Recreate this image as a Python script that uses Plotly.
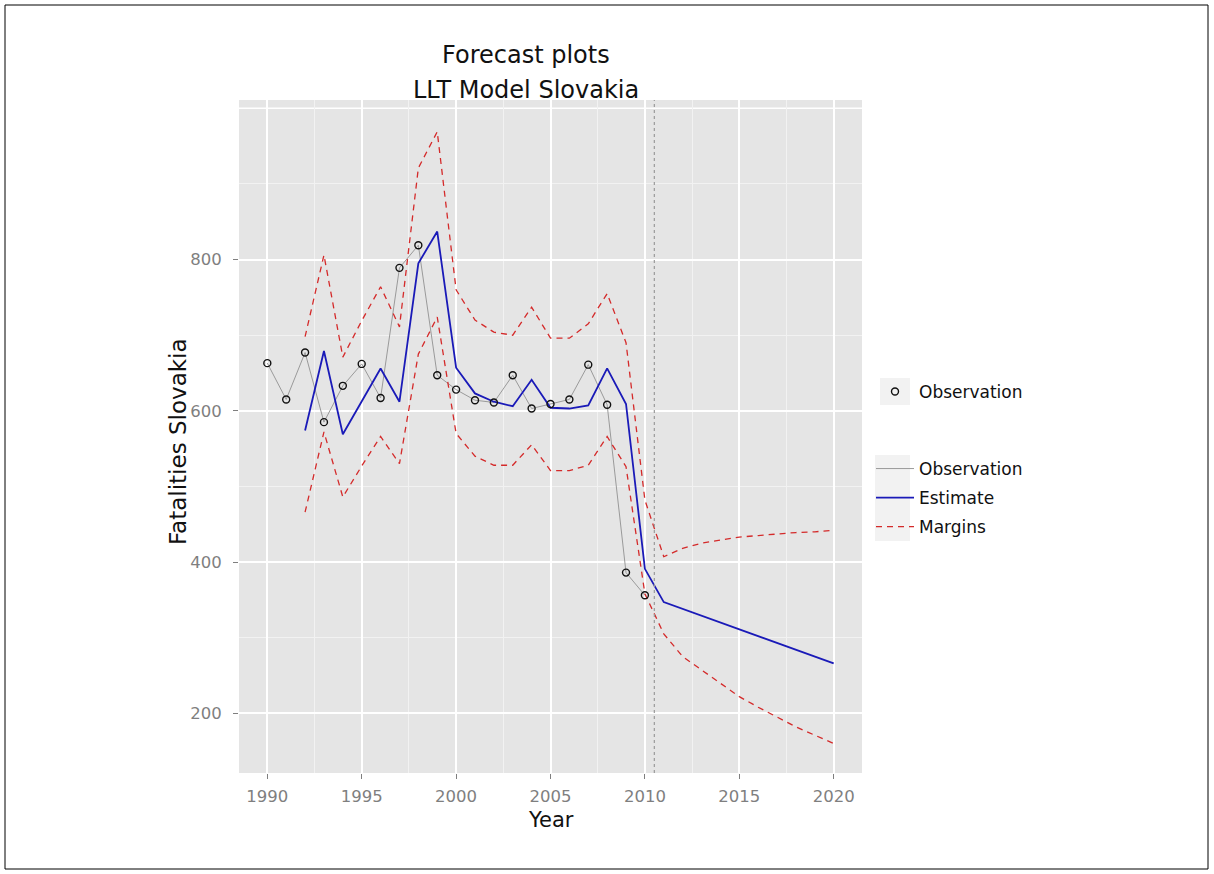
import plotly.graph_objects as go

# 관측치 (1990-2010)
obs_years = list(range(1990, 2011))
obs_values = [663, 615, 677, 585, 633, 662, 617, 789, 819, 647, 628,
              614, 611, 647, 603, 609, 615, 661, 608, 386, 356]

# 추정치 + 예측 구간 (1992-2020)
est_years = list(range(1992, 2021))
est_values = [574, 679, 569, 613, 656, 612, 795, 837, 657, 623,
              612, 606, 641, 604, 603, 607, 656, 609, 391, 347,
              338, 329, 320, 311, 302, 293, 284, 275, 266]
upper_values = [698, 806, 671, 719, 764, 711, 921, 969, 760, 720,
                704, 700, 737, 696, 696, 715, 755, 690, 482, 407,
                418, 425, 429, 433, 435, 437, 439, 440, 442]
lower_values = [466, 572, 486, 527, 566, 530, 675, 724, 570, 540,
                528, 528, 555, 521, 521, 528, 566, 526, 358, 305,
                275, 257, 240, 222, 208, 195, 182, 171, 160]

forecast_start = 2010.5
x_ticks = [1990, 1995, 2000, 2005, 2010, 2015, 2020]
y_ticks = [200, 400, 600, 800]

FONT = "DejaVu Sans, Verdana, sans-serif"
C_OBS, C_EST, C_MARG = "#9a9a9a", "#1a1ab8", "#d42a2a"
C_TXT, C_TICK = "#111111", "#7f7f7f"

# 패널 픽셀 위치 (참조 그림 기준) → paper 좌표
P_L, P_R, P_T, P_B = 239, 862, 100, 773


def px(x):
    return (x - P_L) / (P_R - P_L)


def py(y):
    return (P_B - y) / (P_B - P_T)


fig = go.Figure()
fig.add_trace(go.Scatter(x=obs_years, y=obs_values, mode="lines", name="Observation",
                         line=dict(color=C_OBS, width=1), legend="legend2"))
fig.add_trace(go.Scatter(x=est_years, y=est_values, mode="lines", name="Estimate",
                         line=dict(color=C_EST, width=1.8), legend="legend3"))
fig.add_trace(go.Scatter(x=est_years, y=upper_values, mode="lines", name="Margins",
                         line=dict(color=C_MARG, width=1.3, dash="6px,5px"),
                         legend="legend4"))
fig.add_trace(go.Scatter(x=est_years, y=lower_values, mode="lines", name="Margins",
                         line=dict(color=C_MARG, width=1.3, dash="6px,5px"),
                         showlegend=False))
fig.add_trace(go.Scatter(x=obs_years, y=obs_values, mode="markers", name="Observation",
                         marker=dict(symbol="circle-open", size=7, color=C_TXT,
                                     line=dict(width=1.4)),
                         legend="legend"))

# 1000 격자선 (눈금 라벨 없음)
fig.add_shape(type="line", xref="paper", yref="y", x0=0, x1=1, y0=1000, y1=1000,
              layer="between", line=dict(color="white", width=1.6))
# 예측 시작 점선
fig.add_shape(type="line", xref="x", yref="paper", x0=forecast_start, x1=forecast_start,
              y0=0, y1=1, line=dict(color="#9a9a9a", width=1.2, dash="dot"))
# 범례 키 배경
for x0, x1, y0, y1 in [(880, 910, 378, 405), (875, 910, 455, 541)]:
    fig.add_shape(type="rect", xref="paper", yref="paper", layer="below",
                  x0=px(x0), x1=px(x1), y0=py(y1), y1=py(y0),
                  fillcolor="#f2f2f2", line=dict(width=0))
# 그림 테두리
fig.add_shape(type="rect", xref="paper", yref="paper", x0=px(5), x1=px(1208),
              y0=py(869), y1=py(5), line=dict(color="black", width=1))

title_x = px(526)
fig.add_annotation(text="Forecast plots", xref="paper", yref="paper",
                   x=title_x, y=py(55), xanchor="center", yanchor="middle",
                   showarrow=False, font=dict(family=FONT, size=24, color=C_TXT))
fig.add_annotation(text="LLT Model Slovakia", xref="paper", yref="paper",
                   x=title_x, y=py(90), xanchor="center", yanchor="middle",
                   showarrow=False, font=dict(family=FONT, size=24, color=C_TXT))
fig.add_annotation(text="Year", xref="paper", yref="paper", x=0.5, y=py(820),
                   xanchor="center", yanchor="middle",
                   showarrow=False, font=dict(family=FONT, size=21, color=C_TXT))
fig.add_annotation(text="Fatalities Slovakia", xref="paper", yref="paper", x=px(178),
                   y=py(442), xanchor="center", yanchor="middle", textangle=-90,
                   showarrow=False, font=dict(family=FONT, size=23, color=C_TXT))


def _legend(y_px):
    return dict(x=px(871), y=py(y_px), xanchor="left", yanchor="middle",
                bgcolor="rgba(0,0,0,0)", itemwidth=38,
                font=dict(family=FONT, size=17, color=C_TXT))


fig.update_layout(
    width=1214, height=874,
    margin=dict(l=P_L, r=1214 - P_R, t=P_T, b=874 - P_B),
    paper_bgcolor="white", plot_bgcolor="#e5e5e5",
    font=dict(family=FONT, size=16.5, color=C_TICK),
    showlegend=True,
    legend=_legend(392), legend2=_legend(469),
    legend3=_legend(498), legend4=_legend(527),
)
fig.update_xaxes(range=[1988.5, 2021.5], tickmode="array", tickvals=x_ticks,
                 ticks="outside", ticklen=5, tickcolor=C_TICK, tickwidth=1.2,
                 ticklabelstandoff=3,
                 showgrid=True, gridcolor="white", gridwidth=1.6, zeroline=False,
                 showline=False,
                 minor=dict(tickmode="linear", tick0=1987.5, dtick=5, showgrid=True,
                            gridcolor="#f2f2f2", gridwidth=1, ticks=""))
fig.update_yaxes(range=[121, 1011], tickmode="array", tickvals=y_ticks,
                 ticks="outside", ticklen=5, tickcolor=C_TICK, tickwidth=1.2,
                 ticklabelstandoff=8,
                 showgrid=True, gridcolor="white", gridwidth=1.6, zeroline=False,
                 showline=False,
                 minor=dict(tickmode="linear", tick0=100, dtick=200, showgrid=True,
                            gridcolor="#f2f2f2", gridwidth=1, ticks=""))

fig.write_html("out.html", config={"displayModeBar": False},
               post_script="document.body.style.margin='0';")
